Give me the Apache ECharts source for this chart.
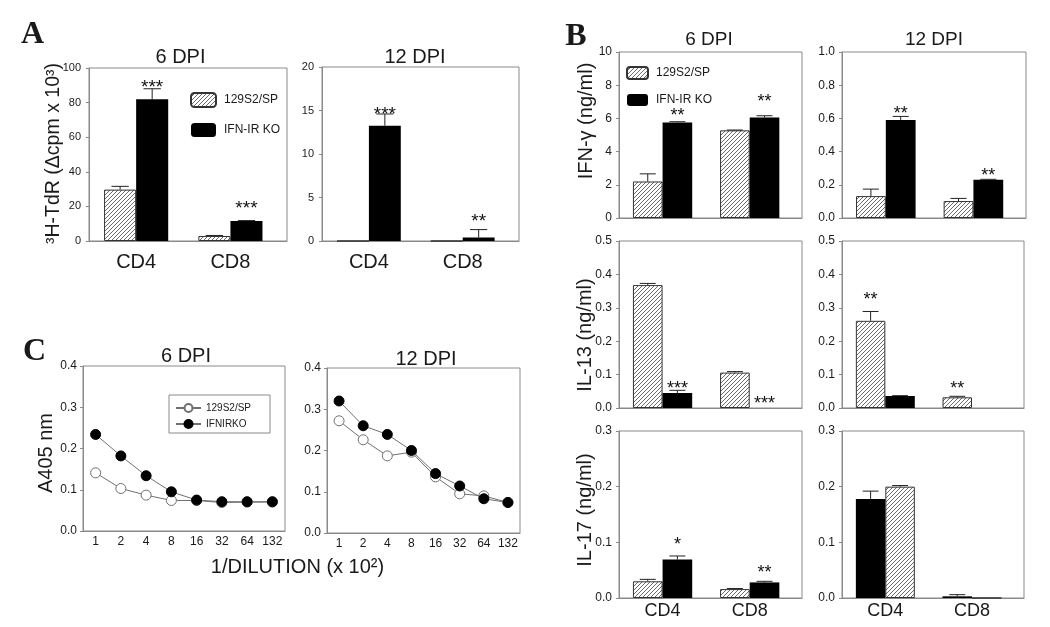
<!DOCTYPE html>
<html><head><meta charset="utf-8">
<script src="https://cdn.jsdelivr.net/npm/echarts@6/dist/echarts.min.js"></script>
<style>html,body{margin:0;padding:0;background:#fff}#c{width:1050px;height:627px}</style>
</head><body><div id="c"></div>
<script>
// ---------------- DATA ----------------
const cellTypes = ['CD4', 'CD8'];
const wtName = '129S2/SP';
const koName = 'IFN-IR KO';
const dilutions = ['1', '2', '4', '8', '16', '32', '64', '132'];

// A: 3H-TdR, 6 DPI
const a6Wt = [29.7, 2.9], a6WtErr = [31.6, 3.2];
const a6Ko = [82.0, 11.5], a6KoErr = [88.0, 11.8];
const a6WtSig = ['', ''], a6WtSigAt = [0, 0];
const a6KoSig = ['***', '***'], a6KoSigAt = [91.7, 21.4];
// A: 3H-TdR, 12 DPI
const a12Wt = [0, 0], a12WtErr = [0, 0];
const a12Ko = [13.26, 0.39], a12KoErr = [14.6, 1.31];
const a12WtSig = ['', ''], a12WtSigAt = [0, 0];
const a12KoSig = ['***', '**'], a12KoSigAt = [15.07, 2.77];
// B: IFN-gamma
const ifn6Wt = [2.2, 5.28], ifn6WtErr = [2.66, 5.3];
const ifn6Ko = [5.76, 6.06], ifn6KoErr = [5.8, 6.16];
const ifn6WtSig = ['', ''], ifn6WtSigAt = [0, 0];
const ifn6KoSig = ['**', '**'], ifn6KoSigAt = [6.44, 7.26];
const ifn12Wt = [0.132, 0.102], ifn12WtErr = [0.174, 0.118];
const ifn12Ko = [0.59, 0.23], ifn12KoErr = [0.612, 0.233];
const ifn12WtSig = ['', ''], ifn12WtSigAt = [0, 0];
const ifn12KoSig = ['**', '**'], ifn12KoSigAt = [0.654, 0.284];
// B: IL-13
const il13_6Wt = [0.368, 0.106], il13_6WtErr = [0.373, 0.109];
const il13_6Ko = [0.045, 0], il13_6KoErr = [0.053, 0];
const il13_6WtSig = ['', ''], il13_6WtSigAt = [0, 0];
const il13_6KoSig = ['***', '***'], il13_6KoSigAt = [0.072, 0.027];
const il13_12Wt = [0.261, 0.032], il13_12WtErr = [0.289, 0.035];
const il13_12Ko = [0.036, 0], il13_12KoErr = [0.037, 0];
const il13_12WtSig = ['**', '**'], il13_12WtSigAt = [0.337, 0.072];
const il13_12KoSig = ['', ''], il13_12KoSigAt = [0, 0];
// B: IL-17
const il17_6Wt = [0.030, 0.016], il17_6WtErr = [0.0335, 0.017];
const il17_6Ko = [0.069, 0.028], il17_6KoErr = [0.0755, 0.030];
const il17_6WtSig = ['', ''], il17_6WtSigAt = [0, 0];
const il17_6KoSig = ['*', '**'], il17_6KoSigAt = [0.1036, 0.054];
const il17_12Wt = [0.200, 0], il17_12WtErr = [0.202, 0];
const il17_12Ko = [0.178, 0.003], il17_12KoErr = [0.192, 0.006];
const il17_12WtSig = ['', ''], il17_12WtSigAt = [0, 0];
const il17_12KoSig = ['', ''], il17_12KoSigAt = [0, 0];
// C: A405 vs dilution
const c6Wt  = [0.141, 0.103, 0.087, 0.074, 0.074, 0.069, 0.070, 0.070];
const c6Ko  = [0.234, 0.182, 0.134, 0.095, 0.075, 0.071, 0.071, 0.071];
const c12Wt = [0.272, 0.226, 0.187, 0.196, 0.136, 0.095, 0.090, 0.074];
const c12Ko = [0.320, 0.260, 0.239, 0.200, 0.144, 0.114, 0.083, 0.074];

// ---------------- STYLE / LAYOUT ----------------
const FF = '"Liberation Sans", Arial, sans-serif';
const SERIF = '"Liberation Serif", "Times New Roman", serif';
const GRAY = '#8a8a8a';
const TXT = '#1a1a1a';

function hatch() {
  const c = document.createElement('canvas');
  c.width = 4; c.height = 4;
  const g = c.getContext('2d');
  g.fillStyle = '#fff'; g.fillRect(0, 0, 4, 4);
  g.strokeStyle = '#5a5a5a'; g.lineWidth = 0.9;
  g.beginPath();
  g.moveTo(0, 4); g.lineTo(4, 0);
  g.moveTo(-1, 1); g.lineTo(1, -1);
  g.moveTo(3, 5); g.lineTo(5, 3);
  g.stroke();
  return c;
}
const HATCH = { image: hatch(), repeat: 'repeat' };

const barPanels = [
  { g: { left: 89, top: 68, width: 198, height: 173 }, max: 100, itv: 20, dec: 0, yfs: 11, ym: 8,
    wt: a6Wt, wtE: a6WtErr, ko: a6Ko, koE: a6KoErr, wS: a6WtSig, wA: a6WtSigAt, kS: a6KoSig, kA: a6KoSigAt,
    showX: true, xfs: 20, xm: 11, koFirst: false, sfs: 19 },
  { g: { left: 322, top: 67, width: 197, height: 174 }, max: 20, itv: 5, dec: 0, yfs: 11, ym: 8,
    wt: a12Wt, wtE: a12WtErr, ko: a12Ko, koE: a12KoErr, wS: a12WtSig, wA: a12WtSigAt, kS: a12KoSig, kA: a12KoSigAt,
    showX: true, xfs: 20, xm: 11, koFirst: false, sfs: 19 },
  { g: { left: 619, top: 52, width: 183, height: 166 }, max: 10, itv: 2, dec: 0, yfs: 12, ym: 7,
    wt: ifn6Wt, wtE: ifn6WtErr, ko: ifn6Ko, koE: ifn6KoErr, wS: ifn6WtSig, wA: ifn6WtSigAt, kS: ifn6KoSig, kA: ifn6KoSigAt,
    showX: false, koFirst: false, sfs: 18 },
  { g: { left: 842, top: 52, width: 184, height: 166 }, max: 1, itv: 0.2, dec: 1, yfs: 12, ym: 7,
    wt: ifn12Wt, wtE: ifn12WtErr, ko: ifn12Ko, koE: ifn12KoErr, wS: ifn12WtSig, wA: ifn12WtSigAt, kS: ifn12KoSig, kA: ifn12KoSigAt,
    showX: false, koFirst: false, sfs: 18 },
  { g: { left: 619, top: 241, width: 183, height: 167 }, max: 0.5, itv: 0.1, dec: 1, yfs: 12, ym: 7,
    wt: il13_6Wt, wtE: il13_6WtErr, ko: il13_6Ko, koE: il13_6KoErr, wS: il13_6WtSig, wA: il13_6WtSigAt, kS: il13_6KoSig, kA: il13_6KoSigAt,
    showX: false, koFirst: false, sfs: 18 },
  { g: { left: 842, top: 241, width: 182, height: 167 }, max: 0.5, itv: 0.1, dec: 1, yfs: 12, ym: 7,
    wt: il13_12Wt, wtE: il13_12WtErr, ko: il13_12Ko, koE: il13_12KoErr, wS: il13_12WtSig, wA: il13_12WtSigAt, kS: il13_12KoSig, kA: il13_12KoSigAt,
    showX: false, koFirst: false, sfs: 18 },
  { g: { left: 619, top: 431, width: 183, height: 167 }, max: 0.3, itv: 0.1, dec: 1, yfs: 12, ym: 7,
    wt: il17_6Wt, wtE: il17_6WtErr, ko: il17_6Ko, koE: il17_6KoErr, wS: il17_6WtSig, wA: il17_6WtSigAt, kS: il17_6KoSig, kA: il17_6KoSigAt,
    showX: true, xfs: 18, xm: 4, koFirst: false, sfs: 18 },
  { g: { left: 842, top: 431, width: 182, height: 167 }, max: 0.3, itv: 0.1, dec: 1, yfs: 12, ym: 7,
    wt: il17_12Wt, wtE: il17_12WtErr, ko: il17_12Ko, koE: il17_12KoErr, wS: il17_12WtSig, wA: il17_12WtSigAt, kS: il17_12KoSig, kA: il17_12KoSigAt,
    showX: true, xfs: 18, xm: 4, koFirst: true, sfs: 18 }
];

const X_MIN = 0.5, X_MAX = 2.6, HALF = 0.17;

const grids = [], xAxes = [], yAxes = [], series = [];

function yAxis(i, max, itv, dec, margin, fs) {
  return {
    gridIndex: i, type: 'value', min: 0, max: max, interval: itv,
    axisLine: { show: true, lineStyle: { color: GRAY, width: 1 } },
    axisTick: { show: true, length: 3, lineStyle: { color: GRAY } },
    splitLine: { show: false },
    axisLabel: { fontSize: fs, fontFamily: FF, color: TXT, margin: margin,
      formatter: v => Number(v).toFixed(dec) }
  };
}

barPanels.forEach((p, i) => {
  grids.push(Object.assign({ show: true, borderColor: GRAY, borderWidth: 1, backgroundColor: 'transparent' }, p.g));
  xAxes.push({
    gridIndex: i, type: 'value', min: X_MIN, max: X_MAX, interval: 0.5,
    axisLine: { show: true, lineStyle: { color: GRAY } },
    axisTick: { show: false }, splitLine: { show: false },
    axisLabel: { show: !!p.showX, fontSize: p.xfs || 12, fontFamily: FF, color: TXT, margin: p.xm || 6,
      showMaxLabel: false,
      formatter: v => (Math.abs(v - Math.round(v)) < 1e-6 && cellTypes[Math.round(v) - 1]) ? cellTypes[Math.round(v) - 1] : '' }
  });
  yAxes.push(yAxis(i, p.max, p.itv, p.dec, p.ym, p.yfs));
  const bw = p.g.width * (2 * HALF) / (X_MAX - X_MIN);
  const wOff = p.koFirst ? HALF : -HALF, kOff = p.koFirst ? -HALF : HALF;
  series.push({
    type: 'bar', name: wtName, xAxisIndex: i, yAxisIndex: i, barWidth: bw, barGap: '-100%',
    itemStyle: { color: HATCH, borderColor: '#333', borderWidth: 1 },
    data: p.wt.map((v, k) => [k + 1 + wOff, v]), silent: true
  });
  series.push({
    type: 'bar', name: koName, xAxisIndex: i, yAxisIndex: i, barWidth: bw, barGap: '-100%',
    itemStyle: { color: '#000' },
    data: p.ko.map((v, k) => [k + 1 + kOff, v]), silent: true
  });
  const items = [];
  p.wt.forEach((v, k) => items.push({ x: k + 1 + wOff, v: v, e: p.wtE[k], sig: p.wS[k], at: p.wA[k] }));
  p.ko.forEach((v, k) => items.push({ x: k + 1 + kOff, v: v, e: p.koE[k], sig: p.kS[k], at: p.kA[k] }));
  const cap = bw * 0.27, sfs = p.sfs;
  series.push({
    type: 'custom', xAxisIndex: i, yAxisIndex: i, z: 5, silent: true, clip: false,
    data: items.map(it => [it.x, it.v, it.e, it.at]),
    renderItem: (params, api) => {
      const it = items[params.dataIndex];
      const ch = [];
      if (it.e > it.v) {
        const p0 = api.coord([it.x, it.v]), p1 = api.coord([it.x, it.e]);
        ch.push({ type: 'line', shape: { x1: p0[0], y1: p0[1], x2: p1[0], y2: p1[1] }, style: { stroke: '#222', lineWidth: 1 } });
        ch.push({ type: 'line', shape: { x1: p1[0] - cap, y1: p1[1], x2: p1[0] + cap, y2: p1[1] }, style: { stroke: '#222', lineWidth: 1 } });
      }
      if (it.sig) {
        const ps = api.coord([it.x, it.at]);
        ch.push({ type: 'text', x: ps[0], y: ps[1] + sfs * 0.27,
          style: { text: it.sig, fontSize: sfs, fontFamily: FF, fill: '#111',
            align: 'center', verticalAlign: 'middle', textAlign: 'center', textVerticalAlign: 'middle' } });
      }
      return { type: 'group', children: ch };
    }
  });
});

// Panel C line charts
const linePanels = [
  { g: { left: 83, top: 366, width: 202, height: 165 }, wt: c6Wt, ko: c6Ko },
  { g: { left: 327, top: 368, width: 193, height: 165 }, wt: c12Wt, ko: c12Ko }
];
linePanels.forEach((p, j) => {
  const i = barPanels.length + j;
  grids.push(Object.assign({ show: true, borderColor: GRAY, borderWidth: 1, backgroundColor: 'transparent' }, p.g));
  xAxes.push({
    gridIndex: i, type: 'category', data: dilutions, boundaryGap: true,
    axisLine: { show: true, lineStyle: { color: GRAY } }, axisTick: { show: false },
    axisLabel: { interval: 0, fontSize: 12, fontFamily: FF, color: TXT, margin: 5 }
  });
  yAxes.push(yAxis(i, 0.4, 0.1, 1, 6, 12));
  series.push({
    type: 'line', name: 'C|' + wtName, xAxisIndex: i, yAxisIndex: i, data: p.wt,
    symbol: 'circle', symbolSize: 10, z: 2, silent: true,
    lineStyle: { color: '#707070', width: 1 },
    itemStyle: { color: '#fff', borderColor: '#707070', borderWidth: 1 }
  });
  series.push({
    type: 'line', name: 'C|IFNIRKO', xAxisIndex: i, yAxisIndex: i, data: p.ko,
    symbol: 'circle', symbolSize: 10, z: 3, silent: true,
    lineStyle: { color: '#707070', width: 1 },
    itemStyle: { color: '#000', borderColor: '#000', borderWidth: 1 }
  });
});

function txt(x, y, text, size, opts) {
  opts = opts || {};
  return {
    type: 'text', x: x, y: y, rotation: opts.rot || 0, silent: true,
    style: { text: text, fontSize: size, fontFamily: opts.ff || FF, fontWeight: opts.fw || 'normal',
      fill: TXT, align: 'center', verticalAlign: 'middle', textAlign: 'center', textVerticalAlign: 'middle' }
  };
}
const R = Math.PI / 2;
const graphics = [
  txt(32.5, 35, 'A', 32, { ff: SERIF, fw: 'bold' }),
  txt(576, 36.5, 'B', 32, { ff: SERIF, fw: 'bold' }),
  txt(34.5, 351.5, 'C', 32, { ff: SERIF, fw: 'bold' }),
  txt(180.5, 57.5, '6 DPI', 20), txt(415, 57.5, '12 DPI', 20),
  txt(709, 40, '6 DPI', 19), txt(934, 40, '12 DPI', 19),
  txt(186, 356.5, '6 DPI', 20), txt(426, 359.5, '12 DPI', 20),
  txt(54, 153.5, '³H-TdR (Δcpm x 10³)', 19.5, { rot: R }),
  txt(586, 121, 'IFN-γ (ng/ml)', 20, { rot: R }),
  txt(585, 335, 'IL-13 (ng/ml)', 20, { rot: R }),
  txt(585, 510, 'IL-17 (ng/ml)', 20, { rot: R }),
  txt(46, 453, 'A405 nm', 20, { rot: R }),
  txt(297.5, 567, '1/DILUTION (x 10²)', 20)
];

const legends = [
  { left: 190, top: 92, padding: 0, orient: 'vertical', itemWidth: 25, itemHeight: 14, itemGap: 15, selectedMode: false,
    data: [wtName, koName], textStyle: { fontSize: 12, fontFamily: FF, color: TXT, padding: [0, 0, 0, 3] } },
  { left: 626, top: 66, padding: 0, orient: 'vertical', itemWidth: 21, itemHeight: 12, itemGap: 14, selectedMode: false,
    data: [wtName, koName], textStyle: { fontSize: 12, fontFamily: FF, color: TXT, padding: [0, 0, 0, 3] } },
  { left: 169, top: 395, orient: 'vertical', itemWidth: 25, itemHeight: 10, itemGap: 6, selectedMode: false,
    padding: [8, 19, 4, 6], borderColor: GRAY, borderWidth: 1, backgroundColor: '#fff',
    data: ['C|' + wtName, 'C|IFNIRKO'], formatter: n => n.split('|').pop(),
    textStyle: { fontSize: 10, fontFamily: FF, color: TXT } }
];

const chart = echarts.init(document.getElementById('c'), null, { renderer: 'canvas' });
chart.setOption({
  animation: false, backgroundColor: '#fff',
  grid: grids, xAxis: xAxes, yAxis: yAxes, series: series,
  legend: legends, graphic: graphics
});
</script></body></html>
